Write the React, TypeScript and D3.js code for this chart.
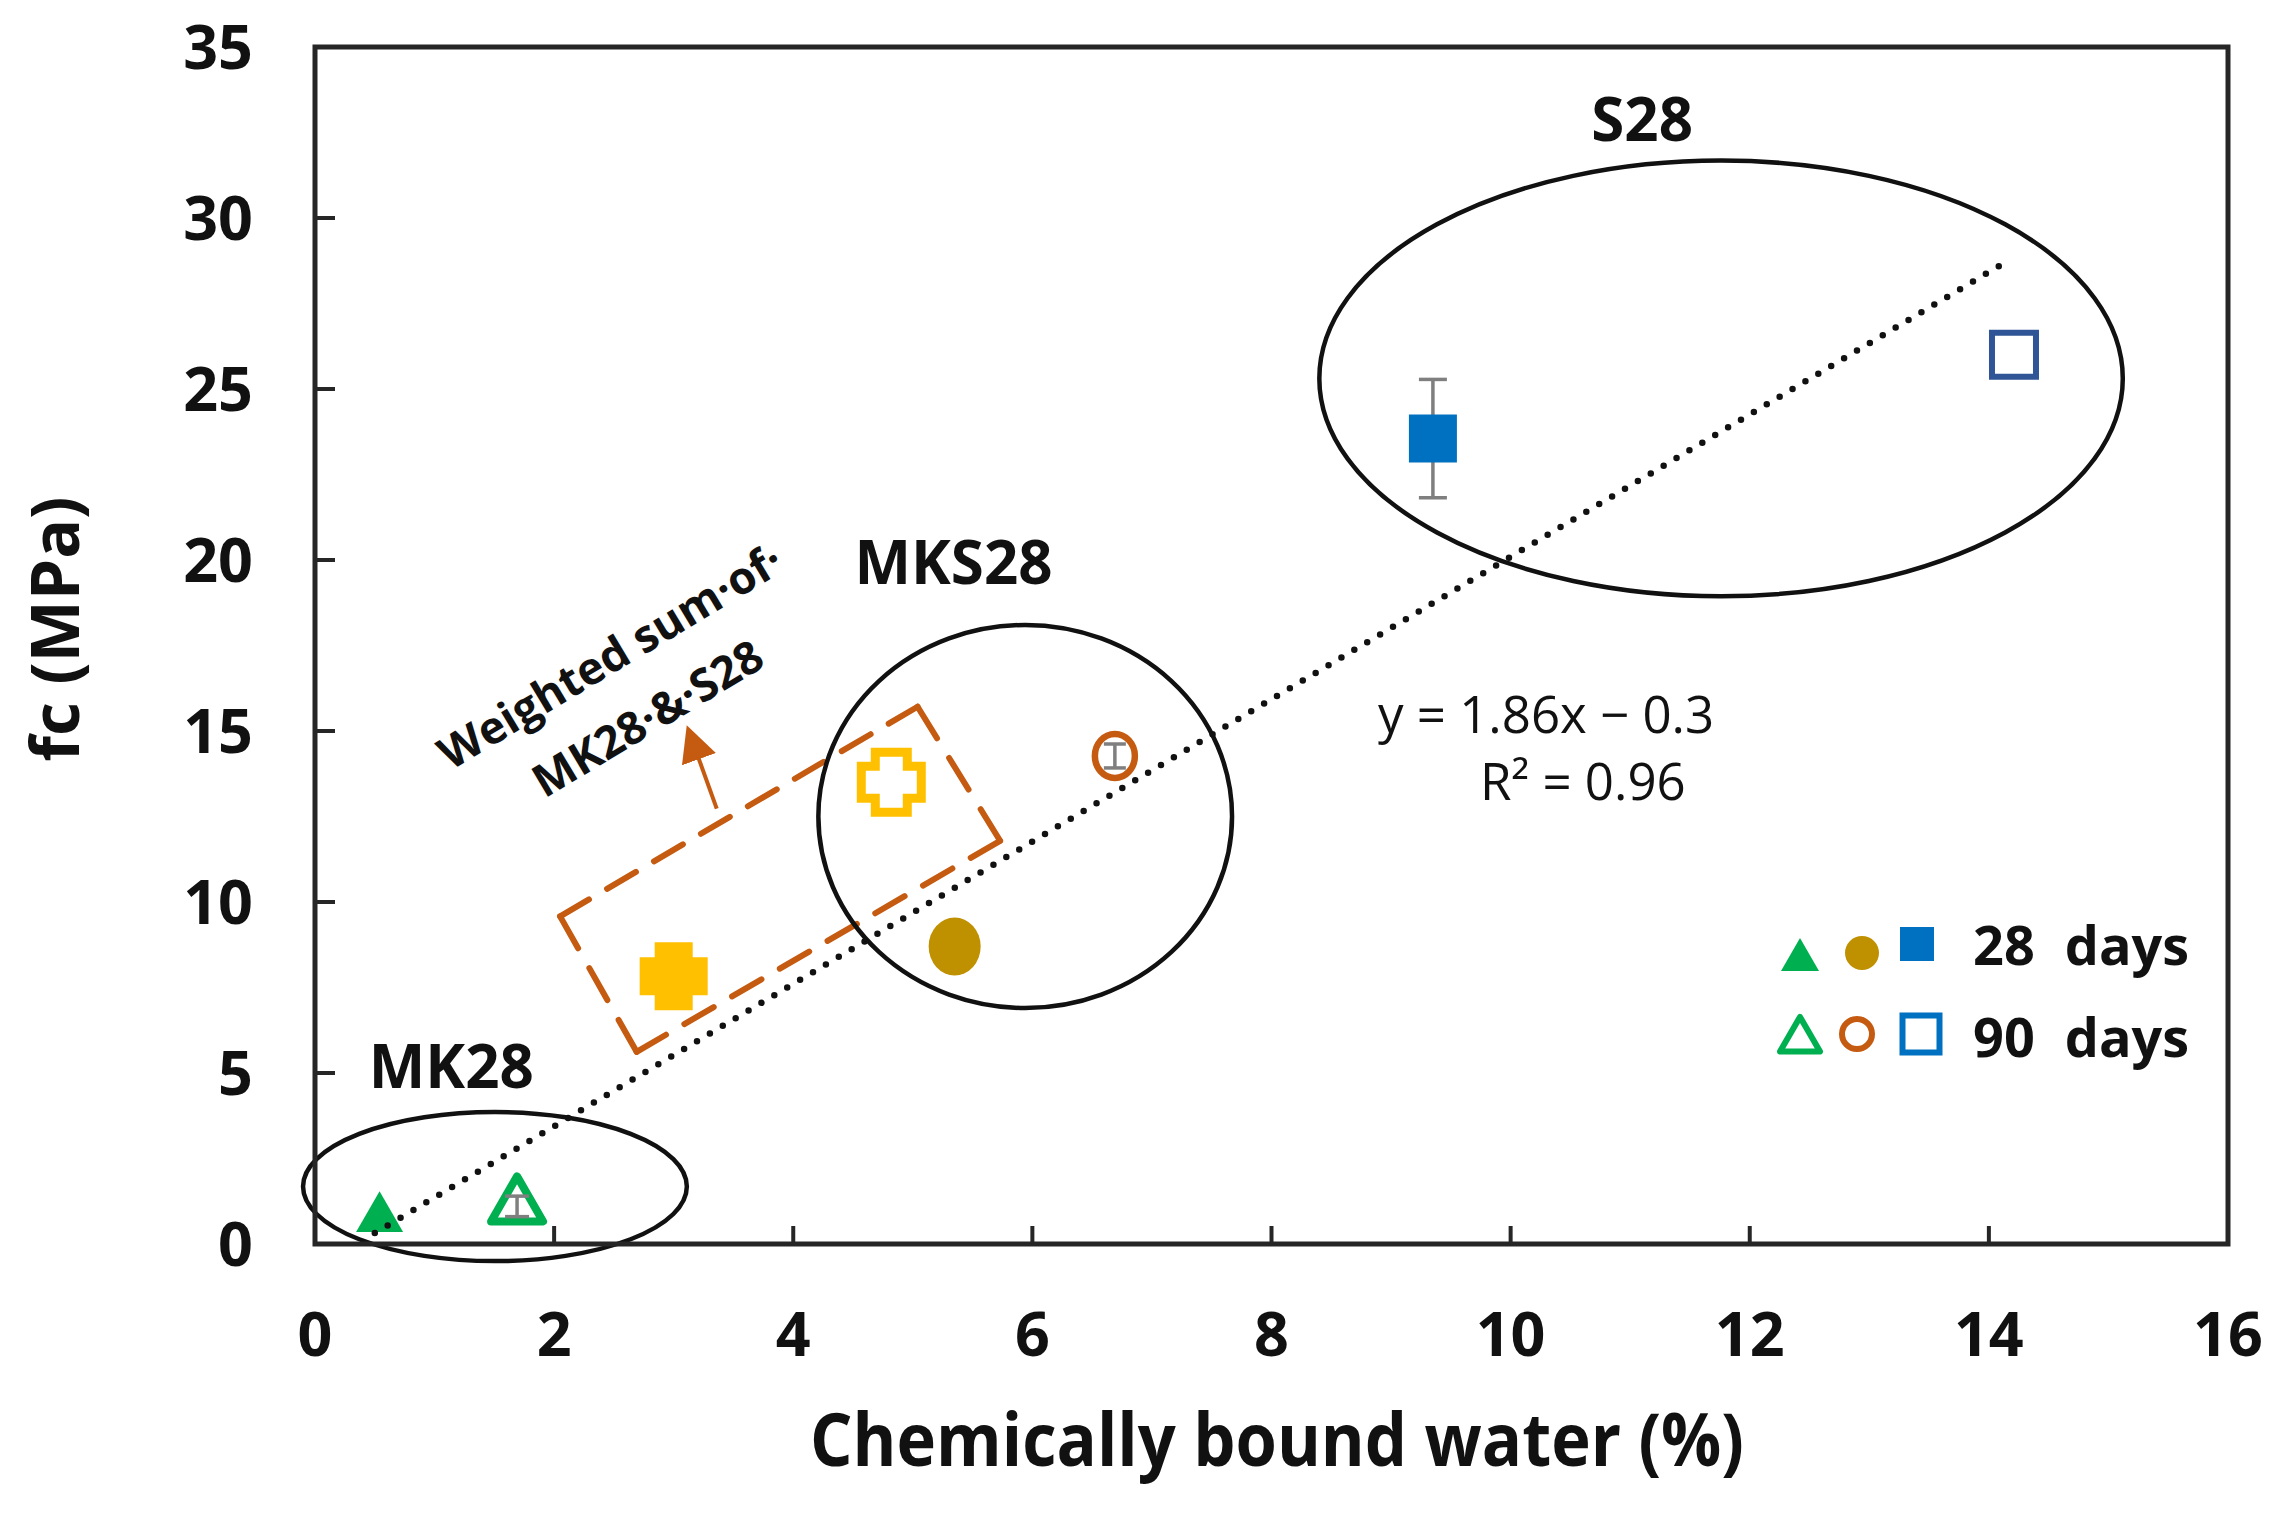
import React from 'react';
import * as d3 from 'd3';

const W = 2291;
const H = 1519;

// measured values
const groups = ['MK28', 'MKS28', 'S28'];
const water28 = [0.54, 5.35, 9.35];
const fc28 = [0.75, 8.7, 23.55];
const err28 = [0, 0, 1.73];
const water90 = [1.69, 6.69, 14.21];
const fc90 = [1.1, 14.27, 26.0];
const err90 = [0.3, 0.35, 0];

// weighted sum of MK28 & S28 (28 d filled, 90 d open)
const weightedWater = [3.0, 4.82];
const weightedFc = [7.83, 13.5];

// dotted trend line end points
const trendWater = [0.5, 14.14];
const trendFc = [0.32, 28.71];

const xTicks = [0, 2, 4, 6, 8, 10, 12, 14, 16];
const yTicks = [0, 5, 10, 15, 20, 25, 30, 35];

// group ellipses (data units)
const ellipseCx = [1.505, 5.94, 11.76];
const ellipseCy = [1.68, 12.5, 25.31];
const ellipseRx = [1.605, 1.73, 3.36];
const ellipseRy = [2.18, 5.6, 6.37];
const labelX = [1.14, 5.34, 11.1];
const labelY = [4.56, 19.3, 32.25];

// dashed box around weighted-sum points
const boxWater = [2.05, 5.04, 5.73, 2.69];
const boxFc = [9.58, 15.71, 11.79, 5.62];
const arrowWater = [3.36, 3.15];
const arrowFc = [12.73, 14.77];

const GREEN = '#00B050';
const GOLD = '#BF9000';
const RUST = '#C55A11';
const BLUE = '#0070C0';
const NAVY = '#2F5597';
const YELLOW = '#FFC000';
const GREY = '#7F7F7F';
const FONT = '"Open Sans", "Noto Sans", sans-serif';

const x = d3.scaleLinear().domain([0, 16]).range([315, 2228]);
const y = d3.scaleLinear().domain([0, 35]).range([1244, 47]);

const tri = (side: number) =>
  d3.symbol().type(d3.symbolTriangle).size((Math.sqrt(3) / 4) * side * side)() as string;
const sq = (side: number) => d3.symbol().type(d3.symbolSquare).size(side * side)() as string;

function cross(s: number, a: number) {
  const h = s / 2;
  const pts: [number, number][] = [
    [-a, -h], [a, -h], [a, -a], [h, -a], [h, a], [a, a],
    [a, h], [-a, h], [-a, a], [-h, a], [-h, -a], [-a, -a],
  ];
  return d3.line()(pts) + 'Z';
}

function ErrBar({ cx, v, e, cap }: { cx: number; v: number; e: number; cap: number }) {
  if (!e) return null;
  const y0 = y(v - e);
  const y1 = y(v + e);
  return (
    <g stroke={GREY} strokeWidth={3.5}>
      <line x1={cx} x2={cx} y1={y0} y2={y1} />
      <line x1={cx - cap / 2} x2={cx + cap / 2} y1={y0} y2={y0} />
      <line x1={cx - cap / 2} x2={cx + cap / 2} y1={y1} y2={y1} />
    </g>
  );
}

function dashedSide(p: [number, number], q: [number, number], key: number) {
  const L = Math.hypot(q[0] - p[0], q[1] - p[1]);
  const d = 32, g = 20;
  const n = Math.max(1, Math.round((L + g) / (d + g)));
  const k = L / (n * d + (n - 1) * g);
  return (
    <line key={key} x1={p[0]} y1={p[1]} x2={q[0]} y2={q[1]}
      stroke={RUST} strokeWidth={6} strokeLinecap="round"
      strokeDasharray={`${d * k} ${g * k}`} />
  );
}

export default function App() {
  const boxPts: [number, number][] = boxWater.map((w, i) => [x(w), y(boxFc[i])]);
  const trend = d3.line<number>().x(w => x(w)).y((_, i) => y(trendFc[i]))(trendWater) as string;

  return (
    <svg width={W} height={H} style={{ position: 'absolute', left: 0, top: 0, background: '#fff' }}
      fontFamily={FONT}>
      <defs>
        <marker id="arrowhead" viewBox="0 0 10 10" refX="6" refY="5" markerWidth="9" markerHeight="9"
          orient="auto" markerUnits="strokeWidth">
          <path d="M0,0 L10,5 L0,10 Z" fill={RUST} />
        </marker>
      </defs>
      <rect x={0} y={0} width={W} height={H} fill="#fff" />

      {/* ticks */}
      <g stroke="#262626" strokeWidth={4}>
        {xTicks.map(t => (
          <line key={'xt' + t} x1={x(t)} x2={x(t)} y1={y(0)} y2={y(0) - 18} />
        ))}
        {yTicks.map(t => (
          <line key={'yt' + t} x1={x(0)} x2={x(0) + 20} y1={y(t)} y2={y(t)} />
        ))}
      </g>
      <g fontSize={61} fontWeight={700} fill="#111">
        {xTicks.map(t => (
          <text key={'xl' + t} x={x(t)} y={1356} textAnchor="middle">{t}</text>
        ))}
        {yTicks.map(t => (
          <text key={'yl' + t} x={253} y={y(t)} dy="0.36em" textAnchor="end">{t}</text>
        ))}
      </g>

      {/* axis titles */}
      <text x={1277} y={1466} fontSize={74} fontWeight={700} textAnchor="middle"
        textLength={934} lengthAdjust="spacingAndGlyphs" fill="#111">Chemically bound water (%)</text>
      <text transform="translate(79,629) rotate(-90)" fontSize={66} fontWeight={700}
        textAnchor="middle" fill="#111">fc (MPa)</text>

      {/* dashed box + arrow */}
      <g>
        {boxPts.map((p, i) => dashedSide(p, boxPts[(i + 1) % boxPts.length], i))}
      </g>
      <line x1={x(arrowWater[0])} y1={y(arrowFc[0])} x2={x(arrowWater[1])} y2={y(arrowFc[1])}
        stroke={RUST} strokeWidth={4} markerEnd="url(#arrowhead)" />
      <g fontSize={45} fontWeight={700} fill="#111" textAnchor="middle">
        <text transform={`translate(${x(2.54)},${y(16.78)}) rotate(-31)`}>Weighted sum·of·</text>
        <text transform={`translate(${x(2.85)},${y(14.97)}) rotate(-31)`}>MK28·&amp;·S28</text>
      </g>

      {/* weighted sum markers */}
      <path d={cross(68, 19)} transform={`translate(${x(weightedWater[0])},${y(weightedFc[0])})`} fill={YELLOW} />
      <path d={cross(60, 16)} transform={`translate(${x(weightedWater[1])},${y(weightedFc[1])})`}
        fill="#fff" stroke={YELLOW} strokeWidth={9} />

      {/* 28 days */}
      <path d={tri(47)} transform={`translate(${x(water28[0])},${y(fc28[0])})`} fill={GREEN} />
      <ellipse cx={x(water28[1])} cy={y(fc28[1])} rx={26} ry={29} fill={GOLD} />
      <ErrBar cx={x(water28[2])} v={fc28[2]} e={err28[2]} cap={28} />
      <path d={sq(48)} transform={`translate(${x(water28[2])},${y(fc28[2])})`} fill={BLUE} />

      {/* 90 days */}
      <path d={tri(52)} transform={`translate(${x(water90[0])},${y(fc90[0])})`}
        fill="#fff" stroke={GREEN} strokeWidth={8} strokeLinejoin="round" />
      <ErrBar cx={x(water90[0])} v={fc90[0]} e={err90[0]} cap={24} />
      <ellipse cx={x(water90[1])} cy={y(fc90[1])} rx={20} ry={22} fill="#fff" stroke={RUST} strokeWidth={6.5} />
      <ErrBar cx={x(water90[1])} v={fc90[1]} e={err90[1]} cap={22} />
      <path d={sq(44)} transform={`translate(${x(water90[2])},${y(fc90[2])})`}
        fill="#fff" stroke={NAVY} strokeWidth={6} />

      {/* group ellipses and labels */}
      {groups.map((g, i) => (
        <g key={g}>
          <ellipse cx={x(ellipseCx[i])} cy={y(ellipseCy[i])}
            rx={x(ellipseRx[i]) - x(0)} ry={y(0) - y(ellipseRy[i])}
            fill="none" stroke="#111" strokeWidth={4.5} />
          <text x={x(labelX[i])} y={y(labelY[i])} fontSize={60} fontWeight={700}
            textAnchor="middle" fill="#111">{g}</text>
        </g>
      ))}

      {/* trend line */}
      <path d={trend} fill="none" stroke="#111" strokeWidth={6.5} strokeLinecap="round"
        strokeDasharray="0 15" />
      <g fontSize={51} fill="#111">
        <text x={1378} y={733}>y = 1.86x − 0.3</text>
        <text x={1480} y={800}>R² = 0.96</text>
      </g>

      {/* plot frame */}
      <rect x={x(0)} y={y(35)} width={x(16) - x(0)} height={y(0) - y(35)}
        fill="none" stroke="#262626" strokeWidth={5} />

      {/* legend */}
      <g>
        <path d={tri(38)} transform="translate(1800,960)" fill={GREEN} />
        <circle cx={1862} cy={953} r={17} fill={GOLD} />
        <path d={sq(34)} transform="translate(1917,944)" fill={BLUE} />
        <path d={tri(40)} transform="translate(1800,1040)" fill="#fff" stroke={GREEN}
          strokeWidth={6} strokeLinejoin="round" />
        <circle cx={1857} cy={1034} r={15} fill="#fff" stroke={RUST} strokeWidth={6} />
        <path d={sq(37)} transform="translate(1921,1034)" fill="#fff" stroke={BLUE} strokeWidth={6} />
        <g fontSize={54} fontWeight={700} fill="#111">
          <text x={1973} y={965}>28<tspan dx={30}>days</tspan></text>
          <text x={1973} y={1057}>90<tspan dx={30}>days</tspan></text>
        </g>
      </g>
    </svg>
  );
}
